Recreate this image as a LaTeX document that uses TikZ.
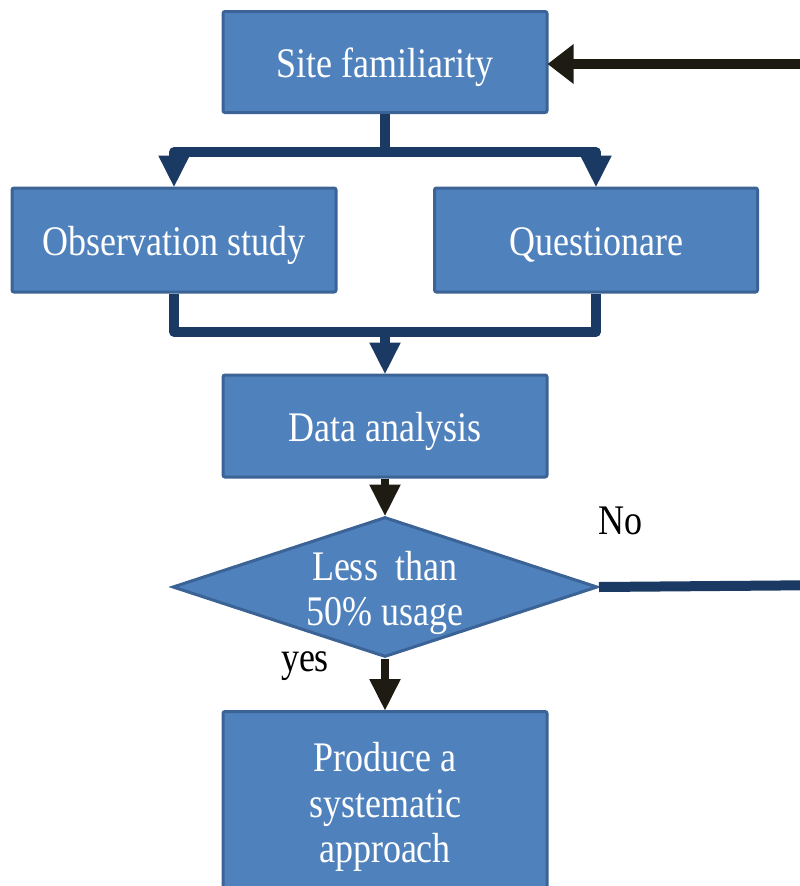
\documentclass[tikz,border=0pt]{standalone}
\usepackage{fontspec}
\usepackage{graphicx}
\setmainfont{Liberation Serif}
\usetikzlibrary{shapes.geometric,arrows.meta}
\definecolor{boxfill}{HTML}{4F81BD}
\definecolor{boxedge}{HTML}{3B6396}
\definecolor{navyline}{HTML}{1B3A63}
\definecolor{darkline}{HTML}{1E1C12}
\newcommand{\tallblock}[1]{\scalebox{1}[1.17]{\parbox{320pt}{\centering\fontsize{36}{39}\selectfont #1}}}
\newcommand{\tallword}[1]{\scalebox{1}[1.17]{\fontsize{36}{39}\selectfont #1}}
\tikzset{
  procbox/.style={draw=boxedge, fill=boxfill, line width=3pt, rounded corners=2pt,
    text=white, align=center, inner sep=0pt, text height=30pt, text depth=0pt},
  decbox/.style={diamond, draw=boxedge, fill=boxfill, line width=3pt, inner sep=0pt,
    minimum width=425pt, minimum height=140pt},
  navyconn/.style={draw=navyline, line width=9.5pt, line join=round},
  navyarrow/.style={navyconn, -{Triangle[width=29pt,length=32pt]}, shorten >=-1pt},
  darkarrow/.style={draw=darkline, line width=8.5pt, -{Triangle[width=29pt,length=32pt]}, shorten >=-1pt},
  toparrow/.style={draw=darkline, line width=10.5pt, -{Triangle[width=38pt,length=26pt]}, shorten >=-1pt},
  lbl/.style={text=black, inner sep=0pt}
}
\begin{document}
\begin{tikzpicture}[x=1pt,y=-1pt]
\useasboundingbox (0,0) rectangle (800,886);
\clip (0,0) rectangle (800,886);
\node[procbox, minimum width=324pt, minimum height=101pt] (site) at (385,62) {\tallword{Site familiarity}};
\node[procbox, minimum width=324pt, minimum height=104pt] (obs) at (174,240) {\tallword{Observation study}};
\node[procbox, minimum width=323pt, minimum height=104pt] (quest) at (596,240) {\tallword{Questionare}};
\node[procbox, minimum width=324pt, minimum height=102pt] (data) at (385,426) {\tallword{Data analysis}};
\node[decbox] (dec) at (385,587) {};
\node[text=white, inner sep=0pt] (dectext) at (385,593) {\tallblock{Less\ \ than\\50\% usage}};
\node[procbox, minimum width=324pt, minimum height=196pt, anchor=north] (prod) at (385,710) {};
\node[text=white, inner sep=0pt] (prodtext) at (385,807) {\tallblock{Produce a\\systematic\\approach}};
\node[lbl] (no) at (620,521) {\tallword{No}};
\node[lbl] (yes) at (305,666) {\tallword{yes}};
\coordinate (m1) at (385,152);
\coordinate (m2) at (385,332);
\coordinate (r1) at (840,585);
\coordinate (r2) at (840,64);
\draw[navyconn] (site.south) -- (m1);
\draw[navyarrow] (m1) -| (obs.north);
\draw[navyarrow] (m1) -| (quest.north);
\draw[navyconn] (obs.south) |- (m2);
\draw[navyconn] (quest.south) |- (m2);
\draw[navyarrow] (m2) -- (data.north);
\draw[darkarrow] (data.south) -- (dec.north);
\draw[darkarrow] (dec.south) -- (prod.north);
\draw[navyconn, line width=10pt] (dec.east) -- (r1) -- (r2);
\draw[toparrow] (r2) -- (site.east |- r2);
\end{tikzpicture}
\end{document}
